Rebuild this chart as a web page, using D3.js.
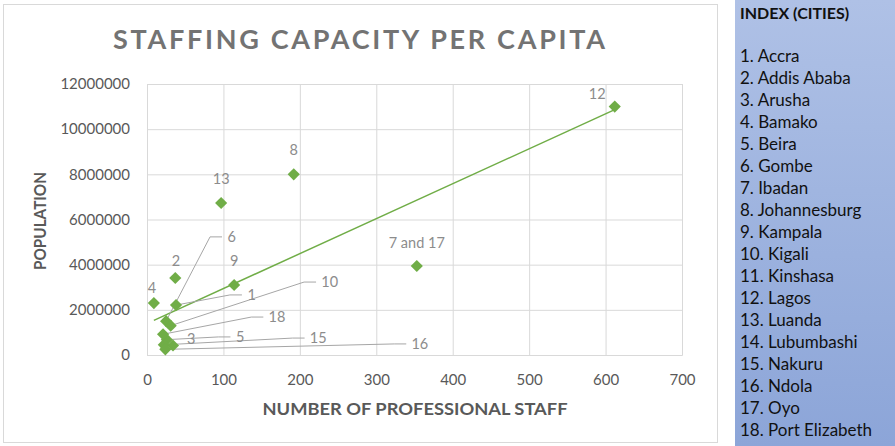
<!DOCTYPE html>
<html>
<head>
<meta charset="utf-8">
<script src="https://cdn.jsdelivr.net/npm/d3@7"></script>
<style>
  body { margin: 0; background: #fff; }
  svg text { font-family: Lato, "Open Sans", sans-serif; }
</style>
</head>
<body>
<div class="chart"></div>
<script>
// city index shown in the side panel
const cities = ["Accra", "Addis Ababa", "Arusha", "Bamako", "Beira", "Gombe", "Ibadan",
  "Johannesburg", "Kampala", "Kigali", "Kinshasa", "Lagos", "Luanda", "Lubumbashi",
  "Nakuru", "Ndola", "Oyo", "Port Elizabeth"];

// scatter points (label, professional staff, population)
const pointLabels = ["1", "2", "3", "4", "5", "6", "7 and 17", "8", "9", "10", "12", "13", "15", "16", "18"];
const staff      = [38, 37, 34, 9, 26, 25, 353, 192, 114, 31, 612, 97, 22, 24, 21];
const population = [2210000, 3410000, 420000, 2300000, 680000, 1500000, 3940000, 8000000,
  3100000, 1300000, 11000000, 6730000, 450000, 250000, 920000];

const xTicks = [0, 100, 200, 300, 400, 500, 600, 700];
const yTicks = [0, 2000000, 4000000, 6000000, 8000000, 10000000, 12000000];

// where each data label sits (in data units) and whether it has a leader line
const labelAt = {
  "1": [137, 2660000, true], "2": [38, 4160000], "3": [58, 710000], "4": [6.5, 2970000],
  "5": [122, 800000, true], "6": [111, 5230000, true], "7 and 17": [353, 4960000],
  "8": [192, 9080000], "9": [114, 4160000], "10": [239, 3230000, true],
  "12": [589, 11560000], "13": [97, 7790000], "15": [224, 750000, true],
  "16": [357, 490000, true], "18": [170, 1680000, true]
};

const data = pointLabels.map((l, i) => ({ label: l, x: staff[i], y: population[i] }));

const width = 895, height = 446;
const svg = d3.select(".chart").append("svg")
  .attr("width", width)
  .attr("height", height);

// chart frame
svg.append("rect")
  .attr("x", 3.5).attr("y", 4.5)
  .attr("width", 714).attr("height", 438)
  .attr("fill", "#fff")
  .attr("stroke", "#d9d9d9");

const x = d3.scaleLinear().domain([0, 700]).range([147, 682]);
const y = d3.scaleLinear().domain([0, 12000000]).range([355, 84]);

const xAxis = svg.append("g")
  .attr("transform", "translate(0," + y(0) + ")")
  .call(d3.axisBottom(x).tickValues(xTicks).tickSize(-(y(0) - y(12000000))).tickPadding(19));
const yAxis = svg.append("g")
  .attr("transform", "translate(" + x(0) + ",0)")
  .call(d3.axisLeft(y).tickValues(yTicks).tickFormat(d3.format("d"))
    .tickSize(-(x(700) - x(0))).tickPadding(17));

[xAxis, yAxis].forEach(g => {
  g.select(".domain").attr("stroke", "#d9d9d9");
  g.selectAll(".tick line").attr("stroke", "#d9d9d9");
  g.selectAll(".tick text")
    .attr("fill", "#595959")
    .attr("font-size", "15px")
    .attr("font-family", "Lato, sans-serif");
});

// linear trendline (least squares) across the data range
const mx = d3.mean(data, d => d.x), my = d3.mean(data, d => d.y);
const slope = d3.sum(data, d => (d.x - mx) * (d.y - my)) / d3.sum(data, d => (d.x - mx) ** 2);
const icpt = my - slope * mx;
const [x0, x1] = d3.extent(data, d => d.x);
svg.append("line")
  .attr("x1", x(x0)).attr("y1", y(icpt + slope * x0))
  .attr("x2", x(x1)).attr("y2", y(icpt + slope * x1))
  .attr("stroke", "#70ad47")
  .attr("stroke-width", 1.5);

// leader lines
svg.selectAll(".leader")
  .data(data.filter(d => labelAt[d.label][2]))
  .enter()
  .append("polyline")
  .attr("class", "leader")
  .attr("fill", "none")
  .attr("stroke", "#a6a6a6")
  .attr("stroke-width", 1)
  .attr("points", function(d) {
    const lx = x(labelAt[d.label][0]) - d.label.length * 3.8 - 6;
    const ly = y(labelAt[d.label][1]);
    return [[x(d.x), y(d.y)], [lx - 12, ly], [lx, ly]].map(p => p.join(",")).join(" ");
  });

// diamond markers
svg.selectAll(".pt")
  .data(data)
  .enter()
  .append("path")
  .attr("class", "pt")
  .attr("d", d3.symbol().type(d3.symbolSquare).size(74))
  .attr("transform", d => "translate(" + x(d.x) + "," + y(d.y) + ") rotate(45)")
  .attr("fill", "#70ad47");

// data labels
svg.selectAll(".lbl")
  .data(data)
  .enter()
  .append("text")
  .attr("class", "lbl")
  .text(d => d.label)
  .attr("x", d => x(labelAt[d.label][0]))
  .attr("y", d => y(labelAt[d.label][1]))
  .attr("dy", "0.35em")
  .attr("text-anchor", "middle")
  .attr("font-size", "14.5px")
  .attr("fill", "#8c8c8c");

// titles
svg.append("text")
  .text("STAFFING CAPACITY PER CAPITA")
  .attr("x", 359).attr("y", 49)
  .attr("text-anchor", "middle")
  .attr("font-family", "'Open Sans', sans-serif")
  .attr("font-weight", "bold")
  .attr("font-size", "27px")
  .attr("textLength", 492)
  .attr("fill", "#737373");

svg.append("text")
  .text("NUMBER OF PROFESSIONAL STAFF")
  .attr("x", 415).attr("y", 415)
  .attr("text-anchor", "middle")
  .attr("font-weight", "bold")
  .attr("font-size", "17px")
  .attr("textLength", 305)
  .attr("lengthAdjust", "spacingAndGlyphs")
  .attr("fill", "#595959");

svg.append("text")
  .text("POPULATION")
  .attr("transform", "translate(46,221) rotate(-90)")
  .attr("text-anchor", "middle")
  .attr("font-weight", "bold")
  .attr("font-size", "17px")
  .attr("textLength", 98)
  .attr("lengthAdjust", "spacingAndGlyphs")
  .attr("fill", "#595959");

// index panel
const grad = svg.append("defs").append("linearGradient")
  .attr("id", "panel").attr("x1", 0).attr("y1", 0).attr("x2", 0).attr("y2", 1);
grad.append("stop").attr("offset", "0%").attr("stop-color", "#afc1e6");
grad.append("stop").attr("offset", "100%").attr("stop-color", "#8ca5d8");

svg.append("rect")
  .attr("x", 735).attr("y", 0)
  .attr("width", 160).attr("height", height)
  .attr("fill", "url(#panel)");

svg.append("text")
  .text("INDEX (CITIES)")
  .attr("x", 740).attr("y", 19)
  .attr("font-weight", "bold")
  .attr("font-size", "16px")
  .attr("fill", "#111");

svg.selectAll(".city")
  .data(cities)
  .enter()
  .append("text")
  .attr("class", "city")
  .text((d, i) => (i + 1) + ". " + d)
  .attr("x", 740)
  .attr("y", (d, i) => 62 + i * 22)
  .attr("font-size", "17px")
  .attr("fill", "#111");
</script>
</body>
</html>
